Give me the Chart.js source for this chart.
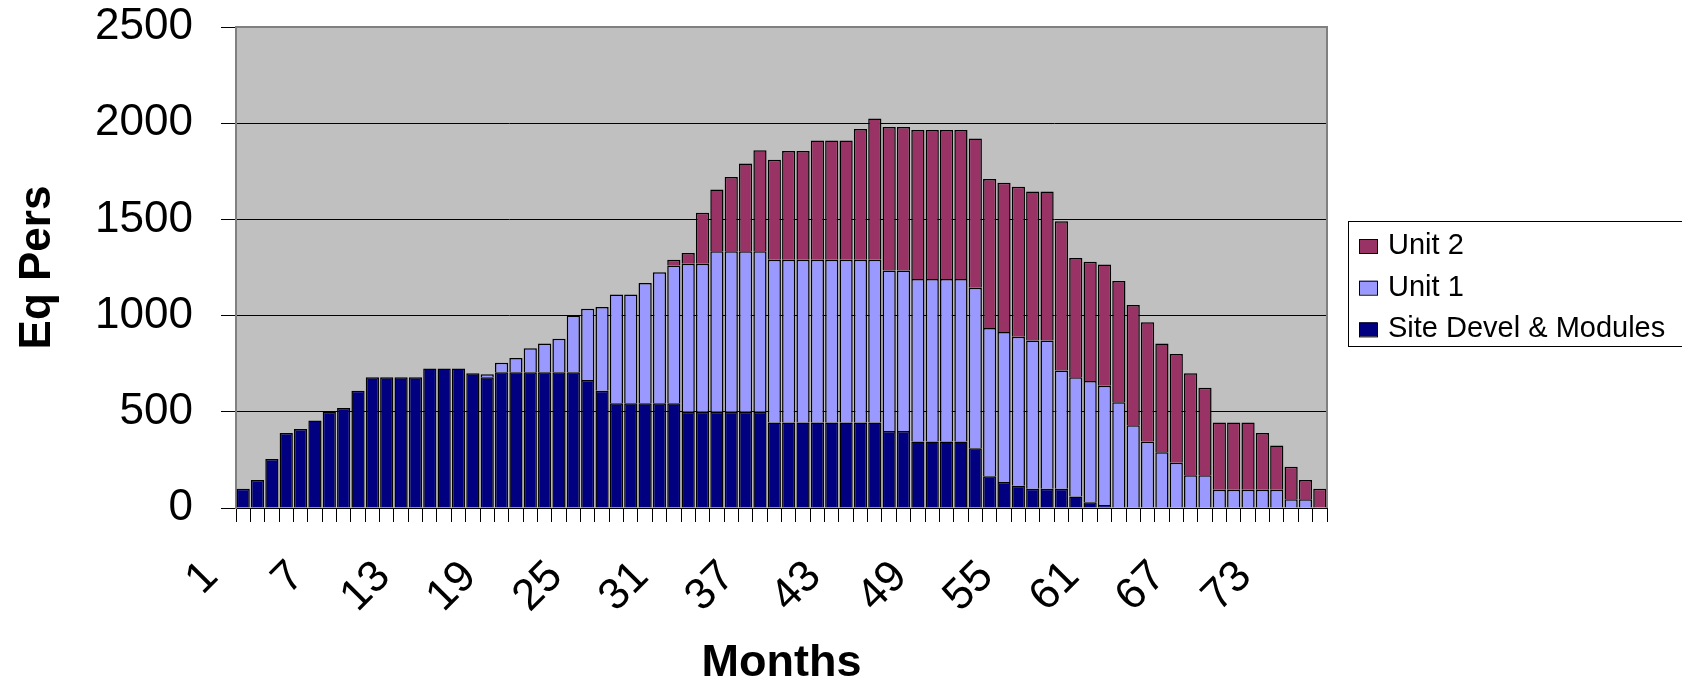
<!DOCTYPE html>
<html>
<head>
<meta charset="utf-8">
<script src="https://cdn.jsdelivr.net/npm/chart.js@4.4.1/dist/chart.umd.min.js"></script>
<style>
  html, body { margin: 0; padding: 0; background: #fff; }
  canvas { display: block; }
</style>
</head>
<body>
<canvas id="chart" width="1682" height="682"></canvas>
<script>
// month numbers on the x axis
const months = [
  '1','2','3','4','5','6','7','8','9','10','11','12','13','14','15','16','17','18','19','20',
  '21','22','23','24','25','26','27','28','29','30','31','32','33','34','35','36','37','38','39','40',
  '41','42','43','44','45','46','47','48','49','50','51','52','53','54','55','56','57','58','59','60',
  '61','62','63','64','65','66','67','68','69','70','71','72','73','74','75','76'
];

// Eq Pers per series (stacked)
const siteDevel = [
  100,145,255,390,410,455,500,520,610,680,
  680,680,680,725,725,725,700,680,705,705,
  705,705,705,705,665,610,545,545,545,545,
  545,500,500,500,500,500,500,445,445,445,
  445,445,445,445,445,400,400,345,345,345,
  345,310,165,135,115,100,100,100,60,30,
  15,0,0,0,0,0,0,0,0,0,
  0,0,0,0,0,0
];
const unit1 = [
  0,0,0,0,0,0,0,0,0,0,
  0,0,0,0,0,0,0,15,50,75,
  125,150,175,295,370,435,565,565,625,680,
  715,770,770,835,835,835,835,845,845,845,
  845,845,845,845,845,835,835,845,845,845,
  845,835,770,780,775,770,770,615,620,630,
  620,550,430,345,290,235,170,170,95,95,
  95,95,95,45,45,0
];
const unit2 = [
  0,0,0,0,0,0,0,0,0,0,
  0,0,0,0,0,0,0,0,0,0,
  0,0,0,0,0,0,0,0,0,0,
  30,55,265,320,385,455,525,520,565,565,
  620,620,620,680,735,745,745,775,775,775,
  775,775,775,775,780,775,775,775,620,620,
  630,630,625,620,565,565,530,455,350,350,
  350,295,230,170,100,100
];

const FONT = '"Liberation Sans", Arial, sans-serif';

const plotBackground = {
  id: 'plotBackground',
  beforeDraw(chart) {
    const {ctx, chartArea: a} = chart;
    ctx.save();
    ctx.fillStyle = '#C0C0C0';
    ctx.fillRect(a.left, a.top, a.right - a.left, a.bottom - a.top);
    ctx.restore();
  },
  afterDatasetsDraw(chart) {
    const {ctx, chartArea: a} = chart;
    ctx.save();
    ctx.strokeStyle = '#808080';
    ctx.lineWidth = 2;
    ctx.beginPath();
    ctx.moveTo(a.left, a.top);
    ctx.lineTo(a.right, a.top);
    ctx.lineTo(a.right, a.bottom);
    ctx.stroke();
    ctx.restore();
  }
};

// legend in a box on the right, top series first
const boxLegend = {
  id: 'boxLegend',
  afterDraw(chart) {
    const ctx = chart.ctx;
    ctx.save();
    ctx.strokeStyle = '#000';
    ctx.lineWidth = 1;
    ctx.strokeRect(1348.5, 221.5, 400, 125);
    const items = chart.data.datasets.slice().reverse();
    items.forEach((ds, i) => {
      const y = 246 + i * 41.7;
      ctx.fillStyle = ds.backgroundColor;
      ctx.fillRect(1359, y - 7, 18, 14);
      ctx.strokeRect(1359.5, y - 6.5, 18, 14);
      ctx.fillStyle = '#000';
      ctx.font = '29px ' + FONT;
      ctx.textBaseline = 'alphabetic';
      ctx.fillText(ds.label, 1388, y + 8);
    });
    ctx.restore();
  }
};

const barStyle = {
  borderColor: '#000',
  borderWidth: c => (c.raw ? 1.5 : 0),
  categoryPercentage: 0.92,
  barPercentage: 1
};

new Chart(document.getElementById('chart').getContext('2d'), {
  type: 'bar',
  data: {
    labels: months,
    datasets: [
      Object.assign({ label: 'Site Devel & Modules', data: siteDevel, backgroundColor: '#000080' }, barStyle),
      Object.assign({ label: 'Unit 1', data: unit1, backgroundColor: '#9999FF' }, barStyle),
      Object.assign({ label: 'Unit 2', data: unit2, backgroundColor: '#993366' }, barStyle)
    ]
  },
  options: {
    responsive: false,
    animation: false,
    layout: { padding: { left: 0, right: 355, top: 27, bottom: 0 } },
    plugins: {
      legend: { display: false },
      tooltip: { enabled: false }
    },
    scales: {
      x: {
        stacked: true,
        grid: { drawOnChartArea: false, drawTicks: true, tickLength: 14, color: '#000', offset: true },
        border: { display: true, color: '#000', width: 1 },
        ticks: {
          autoSkip: false,
          maxRotation: 45,
          minRotation: 45,
          padding: 29,
          labelOffset: -32,
          color: '#000',
          font: { family: FONT, size: 44 },
          callback: (v, i) => (i % 6 === 0 ? months[i] : '')
        },
        title: {
          display: true,
          text: 'Months',
          color: '#000',
          font: { family: FONT, size: 45, weight: 'bold', lineHeight: 0.8 },
          padding: 0
        },
        afterFit: s => { s.height = 174; }
      },
      y: {
        stacked: true,
        min: 0,
        max: 2500,
        ticks: {
          stepSize: 500,
          padding: 28,
          color: '#000',
          font: { family: FONT, size: 44 },
          callback: v => String(v)
        },
        grid: { color: '#000', tickLength: 15 },
        border: { color: '#808080', width: 2 },
        title: {
          display: true,
          text: 'Eq Pers',
          color: '#000',
          font: { family: FONT, size: 44, weight: 'bold' },
          padding: { top: 11, bottom: 0 }
        },
        afterFit: s => {
          s.width = 236;
          s.paddingTop = 0;
          s.paddingBottom = 0;
        }
      }
    }
  },
  plugins: [plotBackground, boxLegend]
});
</script>
</body>
</html>
